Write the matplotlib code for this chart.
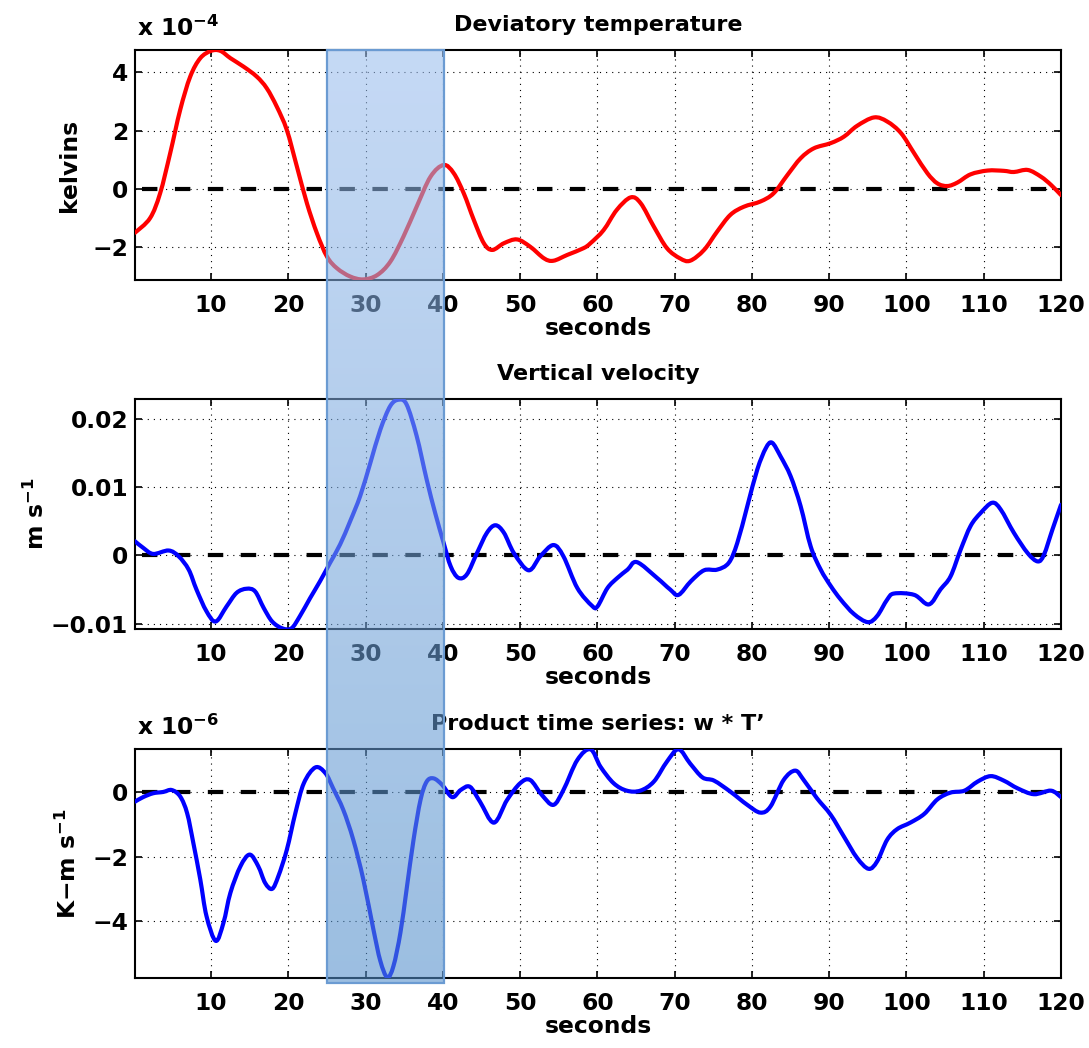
import numpy as np
import matplotlib
matplotlib.use("Agg")
import matplotlib.pyplot as plt
from matplotlib.patches import Rectangle, PathPatch
from matplotlib.path import Path
from matplotlib.ticker import FixedLocator, FuncFormatter

plt.rcParams['font.family'] = ['DejaVu Sans']
plt.rcParams['font.weight'] = 'bold'
plt.rcParams['mathtext.fontset'] = 'dejavusans'
plt.rcParams['mathtext.default'] = 'bf'

# ---------------- data ----------------
# Deviatory temperature, units of 1e-4 K
t_time = [0.15, 2.1, 3.4, 4.7, 6.0, 7.3, 8.6, 10.0, 11.2, 12.5, 14.2, 15.9, 17.2, 18.5, 19.8,
          21.1, 22.4, 23.7, 25.0, 26.3, 28.0, 29.7, 31.5, 33.2, 34.9, 36.6, 38.4, 40.1, 41.4,
          42.7, 44.0, 45.3, 46.4, 47.9, 49.6, 51.3, 53.1, 54.3, 56.1, 58.2, 59.1, 60.8, 62.5,
          64.3, 65.6, 67.3, 69.0, 70.7, 72.0, 73.8, 75.5, 77.2, 78.95, 81.1, 82.8, 84.6, 86.3,
          88.0, 90.2, 91.9, 93.6, 95.8, 97.5, 99.3, 101.0, 102.7, 104.0, 105.3, 106.6, 108.3,
          110.5, 112.6, 113.9, 115.7, 117.4, 118.7, 120.0]
temp_e4 = [-1.50, -1.00, -0.15, 1.22, 2.71, 3.85, 4.48, 4.73, 4.73, 4.48, 4.19, 3.85, 3.45, 2.82,
           2.02, 0.77, -0.49, -1.52, -2.32, -2.72, -3.00, -3.10, -2.95, -2.49, -1.63, -0.61, 0.42,
           0.82, 0.54, -0.15, -1.06, -1.86, -2.09, -1.86, -1.73, -1.98, -2.38, -2.46, -2.26, -2.03,
           -1.86, -1.41, -0.72, -0.29, -0.49, -1.29, -2.03, -2.38, -2.46, -2.09, -1.46, -0.89,
           -0.61, -0.43, -0.15, 0.48, 1.05, 1.39, 1.57, 1.79, 2.16, 2.45, 2.31, 1.91, 1.22, 0.54,
           0.19, 0.10, 0.22, 0.50, 0.63, 0.62, 0.58, 0.65, 0.42, 0.14, -0.21]

# Vertical velocity, units of 0.01 m/s
w_time = [0.15, 1.2, 2.5, 4.5, 5.8, 7.1, 8.1, 9.4, 10.6, 12.0, 13.3, 14.6, 15.7, 16.8, 17.9,
          19.2, 20.4, 21.5, 22.8, 24.1, 25.4, 26.7, 28.0, 29.3, 30.6, 31.9, 33.2, 34.3, 35.3,
          36.6, 37.9, 39.0, 40.1, 41.0, 42.0, 43.1, 44.4, 45.7, 46.8, 47.9, 49.2, 51.1, 52.6,
          54.3, 55.6, 57.4, 59.3, 60.0, 61.3, 62.6, 63.9, 65.1, 67.7, 69.4, 70.5, 72.1, 73.8,
          75.5, 77.0, 78.1, 79.4, 80.7, 81.8, 82.6, 83.7, 85.0, 86.3, 87.6, 88.9, 90.2, 91.5,
          93.2, 95.0, 96.2, 97.5, 98.4, 101.0, 102.9, 104.4, 105.7, 107.0, 108.3, 109.6, 111.1,
          112.2, 113.9, 115.7, 117.0, 117.8, 118.9, 120.0]
w_e2 = [0.205, 0.11, 0.02, 0.07, -0.015, -0.21, -0.50, -0.82, -0.97, -0.75, -0.55, -0.49, -0.53,
        -0.77, -0.97, -1.07, -1.07, -0.89, -0.63, -0.38, -0.11, 0.16, 0.50, 0.87, 1.35, 1.84,
        2.19, 2.28, 2.21, 1.75, 1.11, 0.62, 0.18, -0.16, -0.33, -0.28, 0.03, 0.33, 0.44, 0.33,
        0.03, -0.22, -0.015, 0.15, -0.015, -0.48, -0.74, -0.75, -0.48, -0.33, -0.21, -0.10,
        -0.33, -0.50, -0.58, -0.38, -0.22, -0.21, -0.11, 0.18, 0.72, 1.26, 1.57, 1.65, 1.45,
        1.16, 0.72, 0.13, -0.21, -0.45, -0.65, -0.86, -0.98, -0.89, -0.65, -0.56, -0.58, -0.72,
        -0.50, -0.31, 0.08, 0.43, 0.62, 0.77, 0.67, 0.33, 0.03, -0.09, 0.01, 0.38, 0.74]

# Product w*T', units of 1e-6 K m/s
p_time = [0.15, 1.2, 2.5, 3.8, 4.9, 6.0, 6.9, 7.7, 8.6, 9.4, 10.6, 11.6, 12.5, 13.8, 15.0, 16.1,
          17.0, 17.9, 18.7, 19.8, 20.9, 22.0, 23.5, 24.8, 25.8, 27.1, 28.4, 29.7, 31.0, 31.9,
          32.8, 33.6, 34.5, 35.3, 36.2, 37.1, 37.9, 38.8, 39.9, 41.2, 42.3, 43.5, 44.8, 46.6,
          48.3, 50.0, 51.3, 52.8, 54.3, 55.6, 57.4, 59.1, 60.4, 62.1, 63.8, 65.55, 67.3, 69.0,
          70.5, 72.0, 73.6, 75.1, 77.2, 79.4, 81.1, 82.4, 84.1, 85.6, 86.7, 88.4, 90.2, 91.9,
          93.6, 95.1, 96.2, 97.5, 98.8, 100.5, 102.3, 104.0, 105.7, 107.5, 109.2, 110.9, 112.6,
          114.4, 116.5, 118.7, 120.0]
prod_e6 = [-0.29, -0.15, -0.03, 0.01, 0.07, -0.13, -0.65, -1.57, -2.70, -3.83, -4.60, -4.04,
           -3.11, -2.29, -1.93, -2.29, -2.81, -2.99, -2.60, -1.78, -0.65, 0.28, 0.77, 0.59, 0.12,
           -0.54, -1.47, -2.70, -4.24, -5.22, -5.73, -5.38, -4.35, -3.01, -1.47, -0.24, 0.33,
           0.43, 0.23, -0.15, 0.07, 0.17, -0.29, -0.94, -0.24, 0.28, 0.38, -0.08, -0.39, 0.07,
           1.00, 1.33, 0.79, 0.28, 0.05, 0.05, 0.33, 0.95, 1.33, 0.89, 0.46, 0.36, 0.02, -0.39,
           -0.63, -0.44, 0.38, 0.67, 0.38, -0.18, -0.70, -1.37, -2.03, -2.37, -2.14, -1.47,
           -1.14, -0.94, -0.67, -0.22, -0.01, 0.05, 0.33, 0.50, 0.36, 0.12, -0.06, 0.05, -0.15]

x_ticks = [10, 20, 30, 40, 50, 60, 70, 80, 90, 100, 110, 120]
highlight = (25.0, 40.2)

FS = 16.8
FS_TITLE = 16.0


def smooth_line(ax, xs, ys, color, lw):
    """Draw the line through the read points as a smooth (Catmull-Rom) Bezier path."""
    p = np.column_stack([xs, ys]).astype(float)
    n = len(p)
    verts = [tuple(p[0])]
    codes = [Path.MOVETO]
    for i in range(n - 1):
        p0 = p[i - 1] if i > 0 else p[i]
        p1, p2 = p[i], p[i + 1]
        p3 = p[i + 2] if i + 2 < n else p[i + 1]
        c1 = p1 + (p2 - p0) / 6.0
        c2 = p2 - (p3 - p1) / 6.0
        verts += [tuple(c1), tuple(c2), tuple(p2)]
        codes += [Path.CURVE4] * 3
    patch = PathPatch(Path(verts, codes), facecolor='none', edgecolor=color, linewidth=lw,
                      joinstyle='round', capstyle='round', zorder=4, transform=ax.transData)
    ax.add_patch(patch)


# ---------------- figure ----------------
W, H = 1089, 1048
fig = plt.figure(figsize=(W / 100, H / 100), dpi=100)


def fy(py):
    return 1 - py / H


left = 135 / W
width = (1061 - 135) / W
minus = '\u2212'
panels = [
    dict(top=50, bot=280, x=t_time, y=temp_e4, color='red', ylim=(-3.12, 4.76),
         yt=[-2, 0, 2, 4], fmt=lambda v, p: f"{v:g}".replace('-', minus),
         title='Deviatory temperature', ylabel='kelvins', offset=r'x 10$^{-4}$', lx=-0.058),
    dict(top=399, bot=629, x=w_time, y=w_e2, color='blue', ylim=(-1.08, 2.29),
         yt=[-1, 0, 1, 2], fmt=lambda v, p: ('0' if v == 0 else f"{v/100:.2f}").replace('-', minus),
         title='Vertical velocity', ylabel=r'm s$^{-1}$', offset=None, lx=-0.093),
    dict(top=749, bot=978, x=p_time, y=prod_e6, color='blue', ylim=(-5.75, 1.34),
         yt=[-4, -2, 0], fmt=lambda v, p: f"{v:g}".replace('-', minus),
         title='Product time series: w * T\u2019', ylabel='K' + minus + r'm s$^{-1}$',
         offset=r'x 10$^{-6}$', lx=-0.058),
]

axes = []
for P in panels:
    ax = fig.add_axes([left, fy(P['bot']), width, (P['bot'] - P['top']) / H])
    ax.set_xlim(0.15, 120)
    ax.set_ylim(*P['ylim'])
    ax.xaxis.set_major_locator(FixedLocator(x_ticks))
    ax.yaxis.set_major_locator(FixedLocator(P['yt']))
    ax.yaxis.set_major_formatter(FuncFormatter(P['fmt']))
    ax.grid(True, color='black', linestyle=(0, (1, 4.5)), linewidth=0.8)
    ax.set_axisbelow(True)
    ax.tick_params(direction='in', length=5, width=1.2, top=True, right=True,
                   labelsize=FS, pad=5)
    ax.tick_params(axis='x', pad=10)
    for s in ax.spines.values():
        s.set_linewidth(1.5)
    zl, = ax.plot([1, 120], [0, 0], color='black', linewidth=3.0, zorder=3)
    zl.set_dashes([3.7, 4.2])
    smooth_line(ax, P['x'], P['y'], P['color'], 3.0)
    ax.set_title(P['title'], fontsize=FS_TITLE, fontweight='bold', pad=14)
    ax.set_xlabel('seconds', fontsize=FS, fontweight='bold', labelpad=0)
    ax.set_ylabel(P['ylabel'], fontsize=FS, fontweight='bold')
    ax.yaxis.set_label_coords(P['lx'], 0.5)
    if P['offset']:
        ax.text(0.002, 1.04, P['offset'], transform=ax.transAxes, fontsize=FS,
                fontweight='bold', ha='left', va='bottom')
    axes.append(ax)

# ---------------- highlighted window ----------------
fig.canvas.draw()
inv = fig.transFigure.inverted()
x0_fig = inv.transform(axes[0].transData.transform((highlight[0], 0)))[0]
x1_fig = inv.transform(axes[0].transData.transform((highlight[1], 0)))[0]
y_top = fy(50)
y_bot = fy(983)
ov = fig.add_axes([x0_fig, y_bot, x1_fig - x0_fig, y_top - y_bot], zorder=20)
ov.set_axis_off()
n = 256
frac = np.linspace(0, 1, n)[:, None]
top_c = np.array([155, 190, 238]) / 255
bot_c = np.array([83, 143, 203]) / 255
rgb = top_c[None, :] * (1 - frac) + bot_c[None, :] * frac
img = np.zeros((n, 1, 4))
img[:, 0, :3] = rgb
img[:, 0, 3] = 0.58
ov.imshow(img, aspect='auto', extent=(0, 1, 0, 1), interpolation='bilinear')
ov.set_xlim(0, 1)
ov.set_ylim(0, 1)
ov.add_patch(Rectangle((0, 0), 1, 1, fill=False, edgecolor='#6b9bd2', linewidth=1.6,
                       transform=ov.transAxes, clip_on=False))

fig.savefig('out.png', dpi=100)
